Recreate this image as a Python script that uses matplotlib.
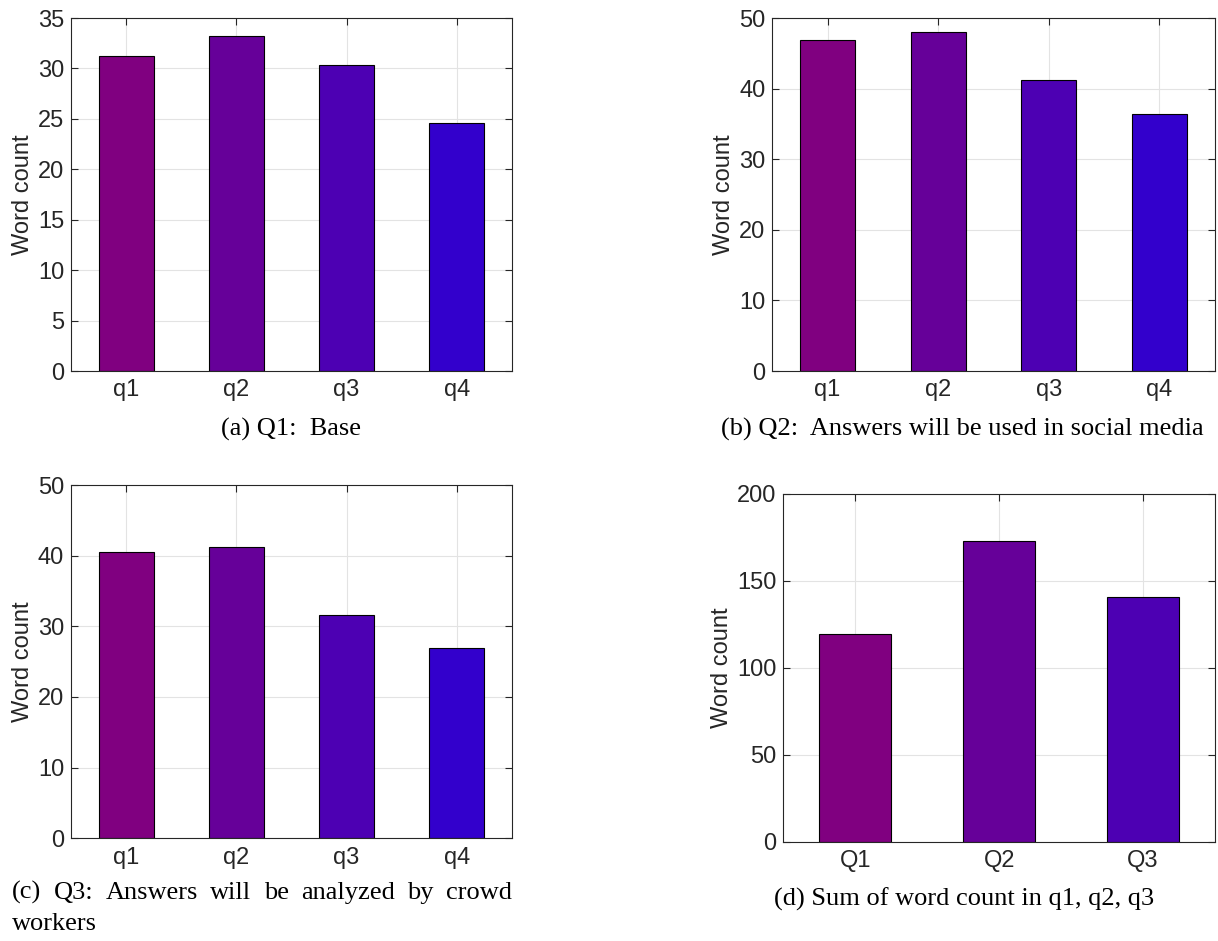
import matplotlib
matplotlib.use("Agg")
import matplotlib.pyplot as plt
import numpy as np

# ---- data ----
q_labels = ["q1", "q2", "q3", "q4"]
Q_labels = ["Q1", "Q2", "Q3"]
q1_base = [31.25, 33.2, 30.3, 24.6]
q2_social = [46.9, 48.1, 41.3, 36.4]
q3_crowd = [40.5, 41.2, 31.6, 26.9]
sum_words = [119.4, 172.6, 140.4]
bar_colors = ["#800080", "#660099", "#4d00b3", "#3300cc"]

captions = ["(a) Q1:  Base",
            "(b) Q2:  Answers will be used in social media",
            "(c) Q3:  Answers will be analyzed by crowd",
            "(d) Sum of word count in q1, q2, q3"]
caption_c_line2 = "workers"

W, H = 1218, 941
fig = plt.figure(figsize=(W / 100, H / 100), dpi=100)

tick_fs = 17
cap_fs = 19
dark = "#262626"
sans = ["Liberation Sans", "DejaVu Sans"]
serif = ["Liberation Serif", "DejaVu Serif"]


def px_ax(l, r, t, b):
    return [l / W, 1 - b / H, (r - l) / W, (b - t) / H]


def draw(ax, labels, vals, ymax, yticks):
    x = np.arange(1, len(vals) + 1)
    ax.bar(x, vals, width=0.5, color=bar_colors[:len(vals)],
           edgecolor="black", linewidth=0.8, zorder=3)
    ax.set_xlim(0.5, len(vals) + 0.5)
    ax.set_ylim(0, ymax)
    ax.set_xticks(x)
    ax.set_xticklabels(labels)
    ax.set_yticks(yticks)
    # grid under the bars, ticks above them
    for xv in ax.get_xticks():
        ax.axvline(xv, color="#e3e3e3", linewidth=0.8, zorder=0.5)
    for yv in ax.get_yticks():
        ax.axhline(yv, color="#e3e3e3", linewidth=0.8, zorder=0.5)
    ax.set_axisbelow(False)
    ax.tick_params(direction="in", length=5, width=0.8, color=dark,
                   top=True, right=True, labelsize=tick_fs, labelcolor=dark)
    ax.tick_params(axis="x", pad=6)
    ax.tick_params(axis="y", pad=5)
    for lab in ax.get_xticklabels() + ax.get_yticklabels():
        lab.set_family(sans)
    for s in ax.spines.values():
        s.set_color(dark)
        s.set_linewidth(0.8)
        s.set_zorder(4)
    ax.set_ylabel("Word count", fontsize=tick_fs, color=dark, family=sans,
                  labelpad=3)


ax_a = fig.add_axes(px_ax(71, 512, 18, 371))
draw(ax_a, q_labels, q1_base, 35, np.arange(0, 36, 5))

ax_b = fig.add_axes(px_ax(772.3, 1214.7, 18.3, 371))
draw(ax_b, q_labels, q2_social, 50, np.arange(0, 51, 10))

ax_c = fig.add_axes(px_ax(71, 512, 485, 838.3))
draw(ax_c, q_labels, q3_crowd, 50, np.arange(0, 51, 10))

ax_d = fig.add_axes(px_ax(783.3, 1215, 493.7, 841.7))
draw(ax_d, Q_labels, sum_words, 200, np.arange(0, 201, 50))

# captions
fig.text(291 / W, 1 - 436 / H, captions[0], ha="center", va="baseline",
         fontsize=cap_fs, family=serif, color="black")
fig.text(962 / W, 1 - 436 / H, captions[1], ha="center", va="baseline",
         fontsize=cap_fs, family=serif, color="black")
fig.text(964 / W, 1 - 906 / H, captions[3], ha="center", va="baseline",
         fontsize=cap_fs, family=serif, color="black")

# justified caption (c)
words = captions[2].replace("  ", " ").split(" ")
fig.canvas.draw()
renderer = fig.canvas.get_renderer()
widths = []
for w in words:
    t = fig.text(0, 0, w, fontsize=cap_fs, family=serif)
    bb = t.get_window_extent(renderer)
    widths.append(bb.width)
    t.remove()
left_px, right_px = 12, 512
gap = (right_px - left_px - sum(widths)) / (len(words) - 1)
xcur = left_px
for w, wd in zip(words, widths):
    fig.text(xcur / W, 1 - 899 / H, w, ha="left", va="baseline",
             fontsize=cap_fs, family=serif, color="black")
    xcur += wd + gap
fig.text(left_px / W, 1 - 930 / H, caption_c_line2, ha="left", va="baseline",
         fontsize=cap_fs, family=serif, color="black")

fig.savefig("out.png", dpi=100)
